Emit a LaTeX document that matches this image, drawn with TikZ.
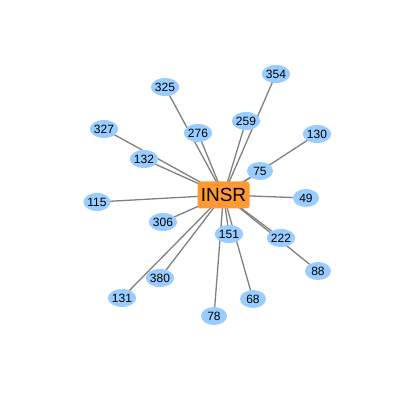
\documentclass[tikz,border=0pt]{standalone}
\usepackage{fontspec}
\setmainfont{Liberation Sans}
\usetikzlibrary{backgrounds,shapes.geometric}
\definecolor{nodeblue}{RGB}{153,204,255}
\definecolor{hub}{RGB}{255,153,51}
\definecolor{edgegray}{RGB}{128,128,128}
\begin{document}
\begin{tikzpicture}[x=1pt,y=-1pt,
  leaf/.style={ellipse,fill=nodeblue,minimum width=26pt,minimum height=18pt,inner sep=0pt,font=\fontsize{12}{13}\selectfont},
  hubbox/.style={rectangle,rounded corners=3pt,fill=hub,minimum width=52pt,minimum height=27pt,inner sep=0pt,font=\fontsize{19}{20}\selectfont},
  link/.style={draw=edgegray,line width=1.3pt}]
\useasboundingbox (0,0) rectangle (405,403);
\node[hubbox] (insr) at (223.5,195) {INSR};
\node[leaf] (n325) at (165,87) {325};
\node[leaf] (n354) at (276,74) {354};
\node[leaf] (n259) at (246,121) {259};
\node[leaf] (n276) at (198,133) {276};
\node[leaf] (n327) at (104,129) {327};
\node[leaf] (n132) at (144,159) {132};
\node[leaf] (n130) at (317,134) {130};
\node[leaf] (n75) at (260,171) {75};
\node[leaf] (n49) at (306,198) {49};
\node[leaf] (n115) at (97,202) {115};
\node[leaf] (n306) at (163,222) {306};
\node[leaf] (n151) at (229,234) {151};
\node[leaf] (n222) at (281,238) {222};
\node[leaf] (n88) at (318,271) {88};
\node[leaf] (n380) at (160,278) {380};
\node[leaf] (n131) at (122,298) {131};
\node[leaf] (n68) at (253,299) {68};
\node[leaf] (n78) at (214,316) {78};
\begin{pgfonlayer}{background}
\foreach \n in {325,354,259,276,327,132,130,75,49,115,306,151,222,88,380,131,68,78}
  \draw[link] (insr.center) -- (n\n.center);
\end{pgfonlayer}
\end{tikzpicture}
\end{document}
